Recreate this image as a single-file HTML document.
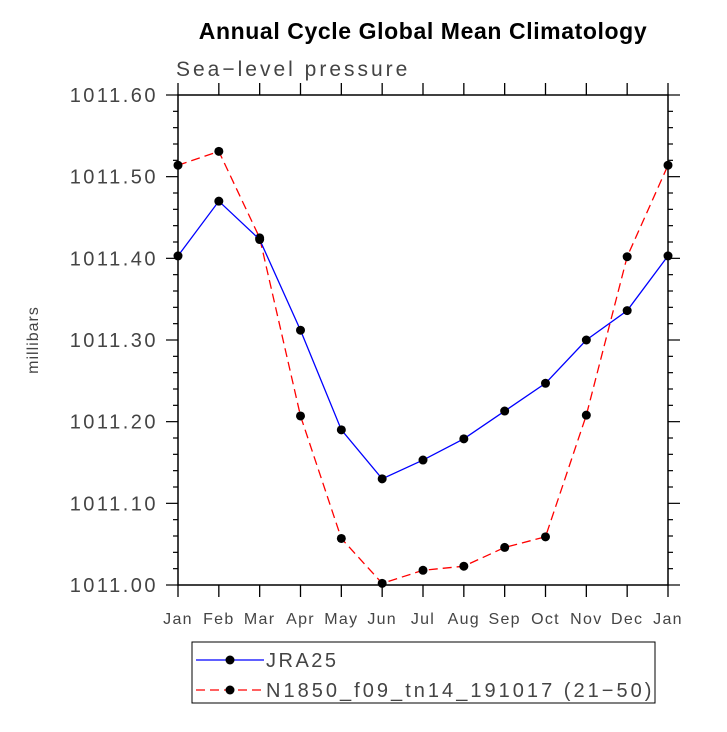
<!DOCTYPE html>
<html><head><style>body{margin:0;background:#fff}svg text{font-family:"Liberation Sans",sans-serif}</style></head><body>
<svg id="c" width="727" height="727" xmlns="http://www.w3.org/2000/svg">
<text x="423" y="39" text-anchor="middle" font-size="23" font-weight="bold" letter-spacing="0.6">Annual Cycle Global Mean Climatology</text>
<text x="176" y="76" font-size="21" fill="#444" letter-spacing="3">Sea−level pressure</text>
<text transform="translate(38,340) rotate(-90)" text-anchor="middle" font-size="16" fill="#444" letter-spacing="1">millibars</text>
<g id="axes"></g><g id="series"></g>
<g>
<rect x="192" y="642" width="463" height="61" fill="none" stroke="#000"/>
<g><line x1="196" y1="660" x2="264" y2="660" stroke="#0000ff" stroke-width="1.3"/><circle cx="230" cy="660" r="4.5"/><text x="266" y="667" font-size="20" fill="#444" letter-spacing="2.5">JRA25</text></g>
<g><line x1="196" y1="690" x2="264" y2="690" stroke="#ff0000" stroke-width="1.3" stroke-dasharray="9,5"/><circle cx="230" cy="690" r="4.5"/><text x="266" y="697" font-size="20" fill="#444" letter-spacing="2.6" textLength="388">N1850_f09_tn14_191017 (21−50)</text></g>
</g>
</svg>
<script>
const months=["Jan","Feb","Mar","Apr","May","Jun","Jul","Aug","Sep","Oct","Nov","Dec","Jan"];
const jra25=[1011.403,1011.47,1011.423,1011.312,1011.19,1011.13,1011.153,1011.179,1011.213,1011.247,1011.30,1011.336,1011.403];
const n1850=[1011.514,1011.531,1011.425,1011.207,1011.057,1011.002,1011.018,1011.023,1011.046,1011.059,1011.208,1011.402,1011.514];
const yTicks=["1011.00","1011.10","1011.20","1011.30","1011.40","1011.50","1011.60"];
const L=178,R=668,T=95,B=585,ymin=1011.0,ymax=1011.6;
const X=i=>L+(R-L)*i/(months.length-1);
const Y=v=>B-(B-T)*(v-ymin)/(ymax-ymin);
const NS="http://www.w3.org/2000/svg";
function mk(tag,at,p){const e=document.createElementNS(NS,tag);for(const k in at)e.setAttribute(k,at[k]);p.appendChild(e);return e;}
const ax=document.getElementById('axes');
const fr=mk('rect',{x:L,y:T,width:R-L,height:B-T,fill:'none',stroke:'#000','stroke-width':1.5},ax);


months.forEach((m,i)=>{const x=X(i);
mk('line',{x1:x,y1:B,x2:x,y2:B+12,stroke:'#000','stroke-width':1.3},ax);
mk('line',{x1:x,y1:T,x2:x,y2:T-12,stroke:'#000','stroke-width':1.3},ax);
const t=mk('text',{x:x,y:B+39,'text-anchor':'middle','font-size':16,fill:'#444','letter-spacing':'1.3'},ax);t.textContent=m;

});
for(let k=0;k<=30;k++){const v=ymin+k*0.02,y=Y(v),maj=k%5==0,len=maj?12:5;
mk('line',{x1:L,y1:y,x2:L-len,y2:y,stroke:'#000','stroke-width':1.2},ax);
mk('line',{x1:R,y1:y,x2:R+len,y2:y,stroke:'#000','stroke-width':1.2},ax);}
yTicks.forEach(s=>{const t=mk('text',{x:158,y:Y(parseFloat(s))+7,'text-anchor':'end','font-size':20,fill:'#444','letter-spacing':'2.5'},ax);t.textContent=s;

});
const sg=document.getElementById('series');
function series(d,col,dash,name){const g=mk('g',{},sg);


mk('polyline',{points:d.map((v,i)=>X(i)+','+Y(v)).join(' '),fill:'none',stroke:col,'stroke-width':1.3,'stroke-dasharray':dash},g);
d.forEach((v,i)=>{const c=mk('circle',{cx:X(i),cy:Y(v),r:4.5,fill:'#000'},g);

});}
series(n1850,'#ff0000','9,5','series-n1850');
series(jra25,'#0000ff','none','series-jra25');
</script>
</body></html>
